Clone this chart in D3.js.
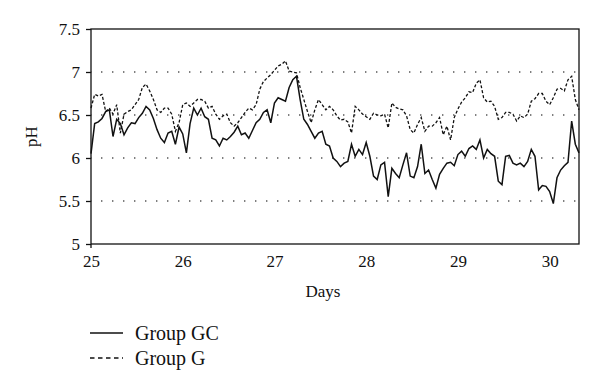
<!DOCTYPE html>
<html>
<head>
<meta charset="utf-8">
<script src="https://cdn.jsdelivr.net/npm/d3@7"></script>
<style>
  body { margin: 0; background: #fff; }
  text { font-family: 'Liberation Serif', 'Times New Roman', serif; fill: #111; }
</style>
</head>
<body>
<div id="chart"></div>
<script>
// readings are taken every STEP days starting at day 25
const START_DAY = 25;
const STEP = 0.04;

const xTicks = [25, 26, 27, 28, 29, 30];
const yTicks = [5, 5.5, 6, 6.5, 7, 7.5];
const gridValues = [5.5, 6, 6.5, 7];

const groupGC = [
  6.05, 6.40, 6.42, 6.46, 6.54, 6.56, 6.25, 6.45, 6.40, 6.27,
  6.35, 6.41, 6.40, 6.47, 6.52, 6.60, 6.56, 6.46, 6.33, 6.23,
  6.18, 6.29, 6.31, 6.16, 6.36, 6.28, 6.06, 6.40, 6.58, 6.50,
  6.58, 6.48, 6.45, 6.23, 6.21, 6.14, 6.23, 6.21, 6.25, 6.30,
  6.37, 6.27, 6.29, 6.23, 6.32, 6.41, 6.45, 6.53, 6.56, 6.41,
  6.64, 6.70, 6.68, 6.66, 6.82, 6.91, 6.95, 6.68, 6.45, 6.39,
  6.31, 6.23, 6.29, 6.31, 6.16, 6.14, 6.00, 5.96, 5.90, 5.94,
  5.96, 6.16, 6.02, 6.10, 6.04, 6.18, 6.02, 5.79, 5.75, 5.92,
  5.95, 5.55, 5.88, 5.82, 5.77, 5.92, 6.06, 5.79, 5.77, 5.90,
  6.16, 5.82, 5.86, 5.75, 5.65, 5.81, 5.88, 5.94, 5.95, 5.91,
  6.04, 6.08, 6.02, 6.11, 6.14, 6.10, 6.21, 6.00, 6.10, 6.05,
  6.02, 5.73, 5.69, 6.02, 6.03, 5.94, 5.92, 5.94, 5.90, 5.96,
  6.10, 6.02, 5.63, 5.68, 5.67, 5.61, 5.47, 5.77, 5.86, 5.91,
  5.95, 6.43, 6.16, 6.06,
];

const groupG = [
  6.58, 6.74, 6.72, 6.74, 6.54, 6.58, 6.51, 6.62, 6.29, 6.51,
  6.54, 6.56, 6.62, 6.68, 6.82, 6.86, 6.78, 6.68, 6.56, 6.53,
  6.58, 6.58, 6.51, 6.31, 6.41, 6.62, 6.64, 6.60, 6.64, 6.68,
  6.68, 6.66, 6.58, 6.60, 6.51, 6.45, 6.49, 6.51, 6.41, 6.37,
  6.41, 6.47, 6.53, 6.58, 6.56, 6.62, 6.80, 6.89, 6.93, 6.97,
  7.02, 7.07, 7.09, 7.13, 7.01, 7.00, 6.99, 6.82, 6.68, 6.54,
  6.41, 6.56, 6.68, 6.62, 6.56, 6.60, 6.56, 6.49, 6.44, 6.45,
  6.42, 6.29, 6.60, 6.56, 6.51, 6.48, 6.45, 6.52, 6.50, 6.49,
  6.51, 6.35, 6.64, 6.59, 6.57, 6.56, 6.49, 6.33, 6.29, 6.39,
  6.47, 6.31, 6.37, 6.37, 6.41, 6.47, 6.27, 6.37, 6.21, 6.47,
  6.57, 6.65, 6.70, 6.77, 6.76, 6.87, 6.91, 6.70, 6.65, 6.66,
  6.60, 6.45, 6.47, 6.53, 6.53, 6.51, 6.43, 6.49, 6.47, 6.51,
  6.66, 6.69, 6.75, 6.75, 6.66, 6.62, 6.70, 6.80, 6.81, 6.78,
  6.91, 6.95, 6.68, 6.56,
];

const legendItems = [
  { label: 'Group GC', dash: null },
  { label: 'Group G', dash: '4.5,3.5' },
];

const size = { width: 600, height: 388 };
const margin = { top: 29, right: 21, bottom: 144, left: 91 };

const svg = d3
  .select('#chart')
  .append('svg')
  .attr('width', size.width)
  .attr('height', size.height);

const x = d3
  .scaleLinear()
  .domain([START_DAY, START_DAY + STEP * (groupGC.length - 1)])
  .range([margin.left, size.width - margin.right]);

const y = d3
  .scaleLinear()
  .domain([5, 7.5])
  .range([size.height - margin.bottom, margin.top]);

const plotBottom = size.height - margin.bottom;
const plotRight = size.width - margin.right;

// dotted grid
svg
  .append('g')
  .selectAll('line')
  .data(gridValues)
  .enter()
  .append('line')
  .attr('x1', margin.left)
  .attr('x2', plotRight)
  .attr('y1', (d) => y(d))
  .attr('y2', (d) => y(d))
  .attr('stroke', '#555')
  .attr('stroke-width', 1.4)
  .attr('stroke-dasharray', '1.4,9.6')
  .attr('stroke-dashoffset', 1);

// lines
const line = (values) =>
  d3
    .line()
    .x((d, i) => x(START_DAY + i * STEP))
    .y((d) => y(d))(values);

svg
  .append('path')
  .attr('d', line(groupG))
  .attr('fill', 'none')
  .attr('stroke', '#111')
  .attr('stroke-width', 1.3)
  .attr('stroke-dasharray', '3,2');

svg
  .append('path')
  .attr('d', line(groupGC))
  .attr('fill', 'none')
  .attr('stroke', '#111')
  .attr('stroke-width', 1.5);

// frame
svg
  .append('rect')
  .attr('x', margin.left)
  .attr('y', margin.top)
  .attr('width', plotRight - margin.left)
  .attr('height', plotBottom - margin.top)
  .attr('fill', 'none')
  .attr('stroke', '#111')
  .attr('stroke-width', 1.3);

// y axis
const yAxis = svg
  .append('g')
  .attr('transform', `translate(${margin.left}, 0)`)
  .call(d3.axisLeft(y).tickValues(yTicks).tickSize(5).tickPadding(6).tickFormat(d3.format('')));
yAxis.select('.domain').remove();
yAxis.selectAll('line').attr('stroke', '#111').attr('stroke-width', 1.3);
yAxis.selectAll('text').style('font-size', '17px').attr('fill', '#111');

// x axis
const xAxis = svg
  .append('g')
  .attr('transform', `translate(0, ${plotBottom})`)
  .call(d3.axisBottom(x).tickValues(xTicks).tickSize(0).tickPadding(11).tickFormat(d3.format('d')));
xAxis.select('.domain').remove();
xAxis.selectAll('text').style('font-size', '17px').attr('fill', '#111');

svg
  .append('line')
  .attr('x1', margin.left)
  .attr('x2', margin.left)
  .attr('y1', plotBottom)
  .attr('y2', plotBottom + 4)
  .attr('stroke', '#111')
  .attr('stroke-width', 1.3);

// axis titles
svg
  .append('text')
  .text('pH')
  .attr('transform', `translate(37, ${(margin.top + plotBottom) / 2}) rotate(-90)`)
  .attr('text-anchor', 'middle')
  .style('font-size', '17px');

svg
  .append('text')
  .text('Days')
  .attr('x', 323)
  .attr('y', 297)
  .attr('text-anchor', 'middle')
  .style('font-size', '17px');

// legend
const legend = svg
  .append('g')
  .selectAll('g')
  .data(legendItems)
  .enter()
  .append('g')
  .attr('transform', (d, i) => `translate(90, ${333 + i * 25})`);

legend
  .append('line')
  .attr('x1', 0)
  .attr('x2', 33)
  .attr('stroke', '#111')
  .attr('stroke-width', 1.3)
  .attr('stroke-dasharray', (d) => d.dash);

legend
  .append('text')
  .text((d) => d.label)
  .attr('x', 45)
  .attr('y', 6.5)
  .style('font-size', '20px');
</script>
</body>
</html>
